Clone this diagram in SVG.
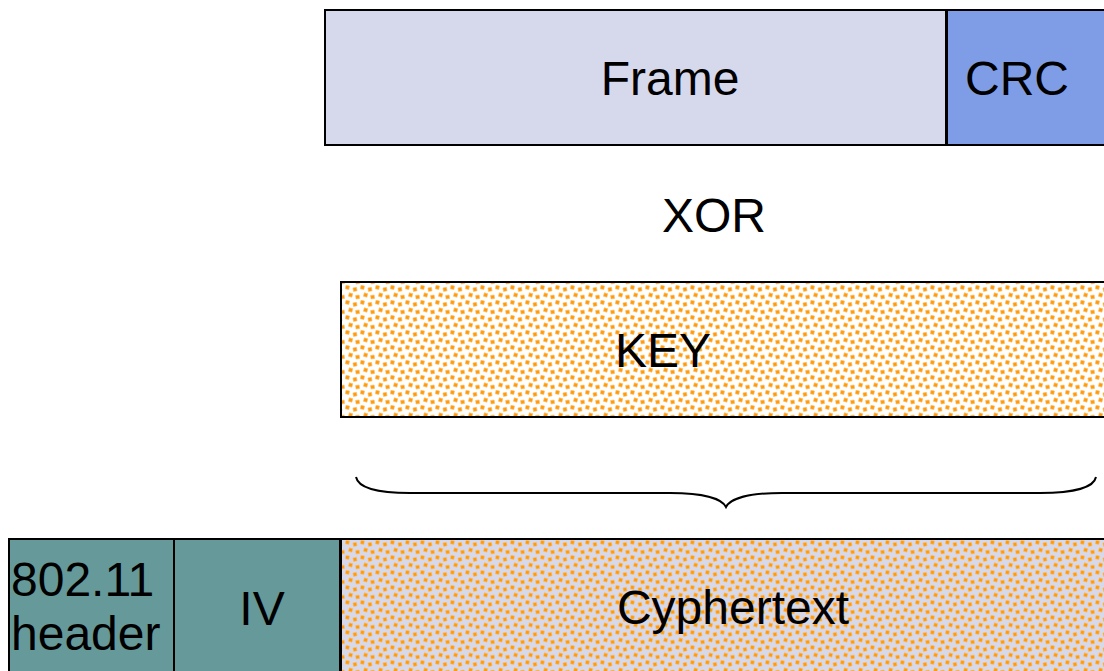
<svg xmlns="http://www.w3.org/2000/svg" width="1104" height="671" viewBox="0 0 1104 671">
  <defs>
    <style>
      .box { stroke: #000; stroke-width: 2; }
      .lbl { font-family: "Liberation Sans", Arial, sans-serif; font-size: 48px; fill: #000; }
      .mid { text-anchor: middle; }
      .dot { fill: #ff9a0a; stroke: #ffbf66; stroke-width: 0.6; }
    </style>
    <!-- orange confetti fill on white -->
    <pattern id="dotsWhite" patternUnits="userSpaceOnUse" width="15" height="15">
      <rect width="15" height="15" fill="#ffffff"/>
      <g class="dot">
        <rect x="0.6" y="0.6" width="3.6" height="3.6" transform="rotate(12 2.4 2.4)"/>
        <rect x="8.2" y="2.6" width="3.6" height="3.6" transform="rotate(-10 10 4.4)"/>
        <rect x="3.8" y="8.2" width="3.6" height="3.6" transform="rotate(15 5.6 10)"/>
        <rect x="10.8" y="10.2" width="3.6" height="3.6" transform="rotate(-8 12.6 12)"/>
      </g>
    </pattern>
    <!-- same confetti on lavender -->
    <pattern id="dotsLav" patternUnits="userSpaceOnUse" width="15" height="15">
      <rect width="15" height="15" fill="#d6d8ec"/>
      <g class="dot">
        <rect x="0.6" y="0.6" width="3.6" height="3.6" transform="rotate(12 2.4 2.4)"/>
        <rect x="8.2" y="2.6" width="3.6" height="3.6" transform="rotate(-10 10 4.4)"/>
        <rect x="3.8" y="8.2" width="3.6" height="3.6" transform="rotate(15 5.6 10)"/>
        <rect x="10.8" y="10.2" width="3.6" height="3.6" transform="rotate(-8 12.6 12)"/>
      </g>
    </pattern>
  </defs>

  <rect width="1104" height="671" fill="#ffffff"/>

  <g id="frame">
    <rect class="box" x="325" y="10" width="621" height="135" fill="#d6d8ec"/>
    <text class="lbl mid" x="670" y="95">Frame</text>
  </g>

  <g id="crc">
    <rect class="box" x="947" y="10" width="170" height="135" fill="#7f9de6"/>
    <text class="lbl" x="965" y="95">CRC</text>
  </g>

  <g id="xor">
    <text class="lbl mid" x="714" y="232">XOR</text>
  </g>

  <g id="key">
    <rect class="box" x="341" y="282" width="780" height="135" fill="url(#dotsWhite)"/>
    <text class="lbl mid" x="663" y="367">KEY</text>
  </g>

  <g id="connectors">
    <!-- curly brace spanning the keystream -->
    <path d="M356,477 C358,487 375,493 410,493 L670,493 C705,493 722,499 726,507 C730,499 747,493 782,493 L1040,493 C1075,493 1094,487 1096,477" fill="none" stroke="#000" stroke-width="2"/>
  </g>

  <g id="header">
    <rect class="box" x="9" y="539" width="165" height="140" fill="#669999"/>
    <text class="lbl" x="11" y="596">802.11</text>
    <text class="lbl" x="11" y="650">header</text>
  </g>

  <g id="iv">
    <rect class="box" x="174" y="539" width="166" height="140" fill="#669999"/>
    <text class="lbl mid" x="262" y="625">IV</text>
  </g>

  <g id="cyphertext">
    <rect class="box" x="341" y="539" width="780" height="140" fill="url(#dotsLav)"/>
    <text class="lbl mid" x="733" y="624">Cyphertext</text>
  </g>
</svg>
